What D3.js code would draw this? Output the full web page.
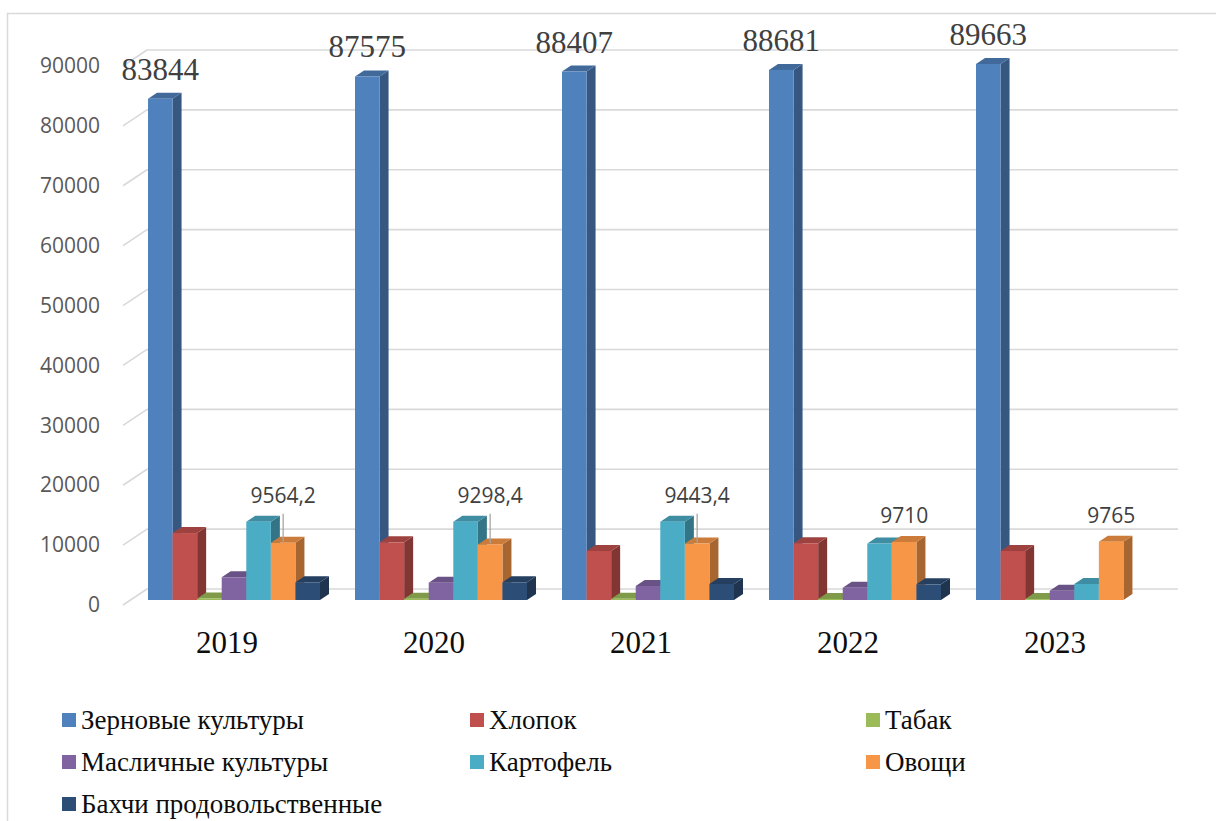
<!DOCTYPE html>
<html>
<head>
<meta charset="utf-8">
<script src="https://cdn.jsdelivr.net/npm/d3@7"></script>
<style>
  body { margin: 0; background: #fff; }
  svg { display: block; }
</style>
</head>
<body>
<script>
// data
const years = ['2019', '2020', '2021', '2022', '2023']
const seriesNames = ['Зерновые культуры', 'Хлопок', 'Табак', 'Масличные культуры', 'Картофель', 'Овощи', 'Бахчи продовольственные']
const colors = ['#4F81BD', '#C0504D', '#9BBB59', '#8064A2', '#4BACC6', '#F79646', '#2C4D75']

const grain = [83844, 87575, 88407, 88681, 89663]
const cotton = [11200, 9650, 8200, 9490, 8200]
const tobacco = [250, 220, 200, 180, 150]
const oilseeds = [3800, 2900, 2340, 2060, 1560]
const potato = [13100, 13100, 13100, 9450, 2680]
const vegetables = [9564.2, 9298.4, 9443.4, 9710, 9765]
const melons = [2960, 2960, 2680, 2620, null]

const yTicks = [0, 10000, 20000, 30000, 40000, 50000, 60000, 70000, 80000, 90000]

const series = [grain, cotton, tobacco, oilseeds, potato, vegetables, melons]

const W = 1216, H = 821
const depth = { dx: 9, dy: -6 }       // bar depth
const wall = { front: 123, back: 147, right: 1178 }
const serif = '"Liberation Serif", "Times New Roman", "DejaVu Serif", serif'

const svg = d3.select('body').append('svg')
    .attr('width', W)
    .attr('height', H)

svg.append('rect')
    .attr('width', W).attr('height', H)
    .attr('fill', '#fff')

// chart border
svg.append('rect')
    .attr('x', 7.5).attr('y', 13.5)
    .attr('width', 1230).attr('height', 830)
    .attr('fill', 'none')
    .attr('stroke', '#d9d9d9')
    .attr('stroke-width', 1.5)

const yFront = d3.scaleLinear().domain([0, 90000]).range([605, 66])
const yBack = d3.scaleLinear().domain([0, 90000]).range([589, 50])
const yBar = d3.scaleLinear().domain([0, 90000]).range([600, 62])

const x0 = d3.scaleBand()
    .domain(years)
    .range([130.5, 1165.5])
    .paddingInner(0.169)
    .paddingOuter(0.0845)

const x1 = d3.scaleBand()
    .domain(d3.range(seriesNames.length))
    .range([0, x0.bandwidth()])

// back wall gridlines + left wall diagonals
const grid = svg.append('g')
    .attr('stroke', '#d9d9d9')
    .attr('stroke-width', 1.6)
    .attr('fill', 'none')

grid.selectAll('line.back')
    .data(yTicks)
    .enter()
    .append('line')
    .attr('class', 'back')
    .attr('x1', wall.back)
    .attr('x2', wall.right)
    .attr('y1', d => yBack(d))
    .attr('y2', d => yBack(d))

grid.selectAll('line.side')
    .data(yTicks)
    .enter()
    .append('line')
    .attr('class', 'side')
    .attr('x1', wall.front)
    .attr('x2', wall.back)
    .attr('y1', d => yFront(d))
    .attr('y2', d => yBack(d))

// y axis labels
const yAxis = svg.append('g')
    .attr('transform', `translate(${wall.front},0)`)
    .call(d3.axisLeft(yFront).tickValues(yTicks).tickSize(0).tickPadding(23).tickFormat(d => d))
yAxis.select('.domain').remove()
yAxis.selectAll('text')
    .attr('fill', '#595959')
    .style('font-family', '"Open Sans", sans-serif')
    .style('font-size', '21px')

// bars
const bars = svg.append('g')

years.forEach((yr, i) => {
    series.forEach((s, j) => {
        const v = s[i]
        if (v == null) return
        const x = x0(yr) + x1(j)
        const w = x1.bandwidth()
        const yt = yBar(v)
        const yb = yBar(0)
        const c = d3.color(colors[j])
        const g = bars.append('g')
        // side face
        g.append('path')
            .attr('d', `M${x + w},${yt} L${x + w + depth.dx},${yt + depth.dy} L${x + w + depth.dx},${yb + depth.dy} L${x + w},${yb} Z`)
            .attr('fill', c.darker(1.1))
        // top face
        g.append('path')
            .attr('d', `M${x},${yt} L${x + depth.dx},${yt + depth.dy} L${x + w + depth.dx},${yt + depth.dy} L${x + w},${yt} Z`)
            .attr('fill', c.darker(0.55))
        // front face
        g.append('rect')
            .attr('x', x)
            .attr('y', yt)
            .attr('width', w)
            .attr('height', Math.max(yb - yt, 0.5))
            .attr('fill', colors[j])
    })
})

// labels above the grain bars
svg.append('g')
    .selectAll('text')
    .data(grain)
    .enter()
    .append('text')
    .attr('x', (d, i) => x0(years[i]) + x1(0) + x1.bandwidth() / 2)
    .attr('y', d => yBar(d) + depth.dy - 13)
    .attr('text-anchor', 'middle')
    .attr('fill', '#404040')
    .style('font-family', serif)
    .style('font-size', '31px')
    .text(d => d)

// labels above the vegetable bars (raised over a taller potato bar, with a leader)
const vegLabels = svg.append('g')
vegetables.forEach((v, i) => {
    const cx = x0(years[i]) + x1(5) + x1.bandwidth() / 2
    const top = Math.min(yBar(v), yBar(potato[i])) + depth.dy - 13
    if (potato[i] > v) {
        vegLabels.append('line')
            .attr('x1', cx).attr('x2', cx)
            .attr('y1', top + 11)
            .attr('y2', yBar(v) - 1)
            .attr('stroke', '#a6a6a6')
            .attr('stroke-width', 1.3)
    }
    vegLabels.append('text')
        .attr('x', cx)
        .attr('y', top)
        .attr('text-anchor', 'middle')
        .attr('fill', '#404040')
        .style('font-family', '"Open Sans", sans-serif')
        .style('font-size', '21px')
        .text(String(v).replace('.', ','))
})

// category labels
svg.append('g')
    .selectAll('text')
    .data(years)
    .enter()
    .append('text')
    .attr('x', d => x0(d) + x0.bandwidth() / 2 - 7)
    .attr('y', 653)
    .attr('text-anchor', 'middle')
    .attr('fill', '#0d0d0d')
    .style('font-family', serif)
    .style('font-size', '31px')
    .text(d => d)

// legend
const legendX = [62, 470, 866]
const legendY = [729, 771, 813]
const legend = svg.append('g')
    .selectAll('g')
    .data(seriesNames)
    .enter()
    .append('g')
    .attr('transform', (d, i) => `translate(${legendX[i % 3]},${legendY[Math.floor(i / 3)]})`)

legend.append('rect')
    .attr('x', 0).attr('y', -16)
    .attr('width', 14).attr('height', 14)
    .attr('fill', (d, i) => colors[i])

legend.append('text')
    .attr('x', 19)
    .attr('y', 0)
    .attr('fill', '#0d0d0d')
    .style('font-family', serif)
    .style('font-size', '27px')
    .text(d => d)
</script>
</body>
</html>
